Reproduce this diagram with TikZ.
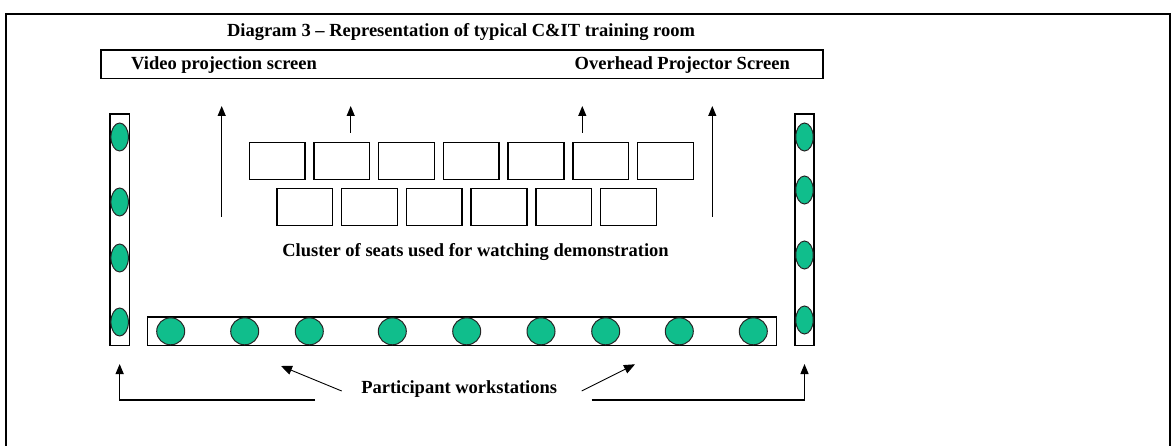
\documentclass[tikz,border=0pt]{standalone}
\usepackage{fontspec}
\setmainfont{Liberation Serif}
\usetikzlibrary{arrows.meta,shapes.geometric}
\definecolor{seatgreen}{RGB}{16,190,140}
\begin{document}
\begin{tikzpicture}[x=1pt,y=-1pt,
  lbl/.style={font=\fontsize{18.5}{22}\selectfont\bfseries, inner sep=0pt},
  seatbox/.style={draw, line width=1.4pt, minimum width=55.7pt, minimum height=37pt, inner sep=0pt},
  bench/.style={draw, line width=1.4pt, inner sep=0pt},
  wst/.style={ellipse, draw=black!85, fill=seatgreen, line width=1pt, inner sep=0pt},
  colst/.style={wst, minimum width=17.5pt, minimum height=28pt},
  barst/.style={wst, minimum width=28pt, minimum height=27pt},
  arr/.style={line width=1.2pt, -{Triangle[length=10pt,width=8pt]}},
  thinarr/.style={line width=0.9pt, -{Triangle[length=11pt,width=9pt]}},
]
\useasboundingbox (0,0) rectangle (1172,446);
\clip (0,0) rectangle (1172,446);
\draw[line width=2.5pt] (6,470) -- (6,14) -- (1170,14) -- (1170,470);

\node[lbl] (title) at (461,32) {Diagram 3 – Representation of typical C\&IT training room};

\node[bench, minimum width=722pt, minimum height=28.3pt] (screen) at (462,64.15) {};
\node[lbl, anchor=west] (vps) at (131,65) {Video projection screen};
\node[lbl, anchor=east] (ops) at (790,65) {Overhead Projector Screen};

\node[bench, minimum width=19.3pt, minimum height=231.7pt] (lcol) at (119.65,229.85) {};
\node[bench, minimum width=19pt, minimum height=231.7pt] (rcol) at (804.5,229.85) {};
\node[bench, minimum width=629pt, minimum height=28.7pt] (bar) at (462.2,331.35) {};

\foreach \i in {0,...,6} \node[seatbox] (t\i) at ({277.2+64.7*\i},160.8) {};
\foreach \i in {0,...,5} \node[seatbox] (b\i) at ({304.9+64.7*\i},207) {};

\foreach \y [count=\k] in {137,202,258,322} \node[colst] (l\k) at (119.65,\y) {};
\foreach \y [count=\k] in {137,190,255,320} \node[colst] (r\k) at (804.5,\y) {};
\foreach \x [count=\k] in {170.7,244.7,309.3,392.3,466.7,541,605.7,679.3,753.3}
  \node[barst] (w\k) at (\x,331.3) {};

\node[lbl] (cl) at (475.5,251.7) {Cluster of seats used for watching demonstration};
\node[lbl] (pw) at (459.2,388.7) {Participant workstations};

\coordinate (a1s) at (221.7,216.7); \coordinate (a1e) at (221.7,106);
\coordinate (a2s) at (350.7,133);   \coordinate (a2e) at (350.7,106);
\coordinate (a3s) at (582.3,133);   \coordinate (a3e) at (582.3,106);
\coordinate (a4s) at (712.3,216.7); \coordinate (a4e) at (712.3,106);
\draw[arr] (a1s) -- (a1e);
\draw[arr] (a2s) -- (a2e);
\draw[arr] (a3s) -- (a3e);
\draw[arr] (a4s) -- (a4e);

\coordinate (lbs) at (315,400); \coordinate (lbc) at (119.65,400); \coordinate (lbt) at (119.65,364);
\coordinate (rbs) at (591.7,400); \coordinate (rbc) at (804.5,400); \coordinate (rbt) at (804.5,364);
\draw[arr] (lbs) -- (lbc) -- (lbt);
\draw[arr] (rbs) -- (rbc) -- (rbt);

\coordinate (dls) at (341.7,391); \coordinate (dlt) at (281,366);
\coordinate (drs) at (581.7,391); \coordinate (drt) at (635,364.3);
\draw[thinarr] (dls) -- (dlt);
\draw[thinarr] (drs) -- (drt);
\end{tikzpicture}
\end{document}
